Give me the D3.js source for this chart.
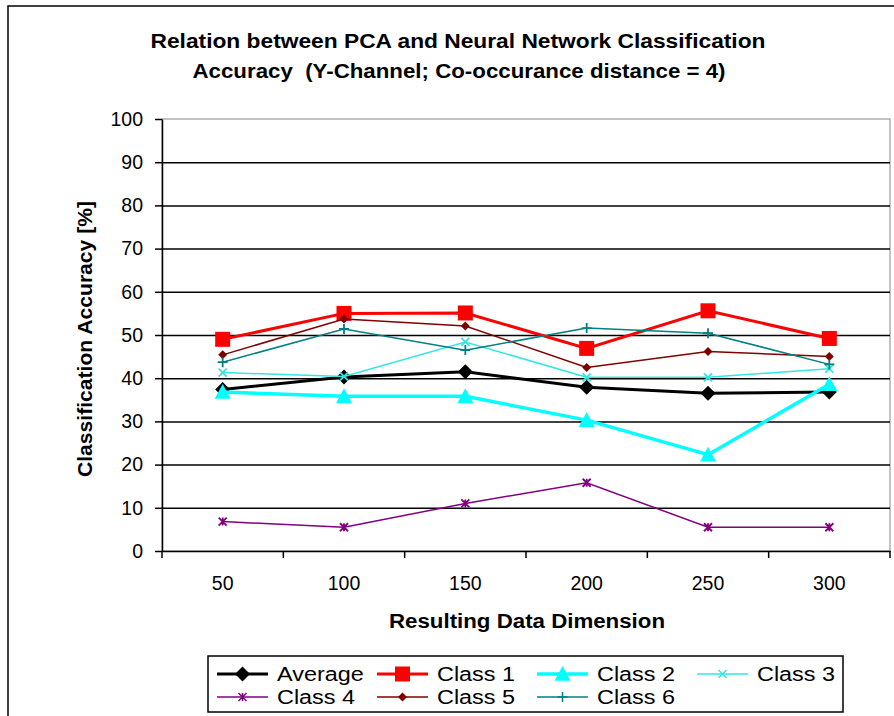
<!DOCTYPE html>
<html>
<head>
<meta charset="utf-8">
<script src="https://cdn.jsdelivr.net/npm/d3@7"></script>
<style>
  body { margin: 0; background: #fff; }
  text { font-family: Arial, "Liberation Sans", sans-serif; }
</style>
</head>
<body>
<svg id="viz" width="894" height="716"></svg>
<script>
// chart data
const dims = ["50", "100", "150", "200", "250", "300"];
const yTicks = [0, 10, 20, 30, 40, 50, 60, 70, 80, 90, 100];
const seriesNames = ["Average", "Class 1", "Class 2", "Class 3", "Class 4", "Class 5", "Class 6"];
const average = [37.4, 40.3, 41.5, 37.9, 36.5, 36.8];
const class1 = [49.0, 55.0, 55.1, 46.9, 55.6, 49.2];
const class2 = [36.8, 35.8, 35.8, 30.3, 22.3, 38.6];
const class3 = [41.3, 40.4, 48.4, 40.2, 40.2, 42.2];
const class4 = [6.8, 5.5, 11.0, 15.8, 5.5, 5.5];
const class5 = [45.4, 53.7, 52.1, 42.5, 46.2, 45.0];
const class6 = [43.7, 51.4, 46.5, 51.6, 50.4, 43.2];

const values = [average, class1, class2, class3, class4, class5, class6];
const styles = [
    {color: "#000000", width: 3, marker: "diamond", size: 15},
    {color: "#ff0000", width: 3, marker: "square", size: 15},
    {color: "#00ffff", width: 3.5, marker: "triangle", size: 16},
    {color: "#33e6e6", width: 1.5, marker: "x", size: 8},
    {color: "#800080", width: 1.5, marker: "star", size: 8},
    {color: "#800000", width: 1.5, marker: "diamond", size: 9},
    {color: "#008080", width: 1.5, marker: "plus", size: 10}
];

var svg = d3.select("#viz");
var margin = {left: 162, top: 119, right: 890, bottom: 551};

// outer chart frame
svg.append("rect")
    .attr("x", 8).attr("y", 6)
    .attr("width", 920).attr("height", 740)
    .attr("fill", "none")
    .attr("stroke", "#000")
    .attr("stroke-width", 1.5);

var x = d3.scaleBand()
    .domain(dims)
    .range([margin.left, margin.right]);
var y = d3.scaleLinear()
    .domain([0, 100])
    .range([margin.bottom, margin.top]);

// plot border (grey)
svg.append("rect")
    .attr("x", margin.left).attr("y", margin.top)
    .attr("width", margin.right - margin.left)
    .attr("height", margin.bottom - margin.top)
    .attr("fill", "none")
    .attr("stroke", "#888")
    .attr("stroke-width", 1);

// gridlines
svg.append("g")
    .attr("transform", `translate(${margin.left},0)`)
    .call(d3.axisLeft(y).tickValues(yTicks.slice(1, -1)).tickSize(-(margin.right - margin.left)).tickFormat(""))
    .call(g => g.select(".domain").remove())
    .selectAll("line")
    .attr("stroke", "#000")
    .attr("stroke-width", 1.5);

// y axis
var yAxis = svg.append("g")
    .attr("transform", `translate(${margin.left},0)`)
    .call(d3.axisLeft(y).tickValues(yTicks).tickSize(7).tickPadding(12).tickSizeOuter(0));
yAxis.select(".domain").attr("stroke-width", 1.5);
yAxis.selectAll("line").attr("stroke-width", 1.5);
yAxis.selectAll("text")
    .attr("font-size", 19.5)
    .attr("font-family", "Arial, 'Liberation Sans', sans-serif")
    .attr("fill", "#000");

// x axis (labels centered, ticks between categories)
var xAxis = svg.append("g")
    .attr("transform", `translate(0,${margin.bottom})`)
    .call(d3.axisBottom(x).tickSize(0).tickPadding(25));
xAxis.select(".domain").attr("stroke-width", 1.5);
xAxis.selectAll("text")
    .attr("font-size", 19.5)
    .attr("font-family", "Arial, 'Liberation Sans', sans-serif")
    .attr("fill", "#000");
xAxis.selectAll("line.sep")
    .data(dims.map(d => x(d)).concat([x.range()[1]]))
    .enter().append("line")
    .attr("class", "sep")
    .attr("x1", d => d).attr("x2", d => d)
    .attr("y1", 0).attr("y2", 7)
    .attr("stroke", "#000")
    .attr("stroke-width", 1.5);

// titles
var title = svg.append("text")
    .attr("text-anchor", "middle")
    .attr("font-weight", "bold")
    .attr("font-size", 21);
title.append("tspan").attr("x", 458).attr("y", 48)
    .attr("textLength", 615).attr("lengthAdjust", "spacingAndGlyphs")
    .text("Relation between PCA and Neural Network Classification");
title.append("tspan").attr("x", 459).attr("y", 78)
    .attr("textLength", 533).attr("lengthAdjust", "spacingAndGlyphs")
    .style("white-space", "pre")
    .text("Accuracy  (Y-Channel; Co-occurance distance = 4)");

svg.append("text")
    .attr("x", 527).attr("y", 628)
    .attr("text-anchor", "middle")
    .attr("font-weight", "bold")
    .attr("font-size", 20)
    .attr("textLength", 276).attr("lengthAdjust", "spacingAndGlyphs")
    .text("Resulting Data Dimension");

svg.append("text")
    .attr("transform", "translate(92,339) rotate(-90)")
    .attr("text-anchor", "middle")
    .attr("font-weight", "bold")
    .attr("font-size", 20)
    .attr("textLength", 276).attr("lengthAdjust", "spacingAndGlyphs")
    .text("Classification Accuracy [%]");

// marker paths
function markerPath(type, s) {
    var h = s / 2;
    switch (type) {
        case "diamond": return `M0,${-h}L${h},0L0,${h}L${-h},0Z`;
        case "square": return `M${-h},${-h}H${h}V${h}H${-h}Z`;
        case "triangle": return `M0,${-h}L${h},${h * 0.85}L${-h},${h * 0.85}Z`;
        case "x": return `M${-h},${-h}L${h},${h}M${-h},${h}L${h},${-h}`;
        case "plus": return `M${-h},0H${h}M0,${-h}V${h}`;
        case "star": return `M${-h},${-h}L${h},${h}M${-h},${h}L${h},${-h}M0,${-h}V${h}`;
    }
}
function filled(type) {
    return type === "diamond" || type === "square" || type === "triangle";
}

var line = d3.line()
    .x((d, i) => x(dims[i]) + x.bandwidth() / 2)
    .y(d => y(d));

var series = svg.selectAll("g.series")
    .data(values)
    .enter().append("g")
    .attr("class", "series");

series.append("path")
    .attr("d", d => line(d))
    .attr("fill", "none")
    .attr("stroke", (d, i) => styles[i].color)
    .attr("stroke-width", (d, i) => styles[i].width)
    .attr("stroke-linejoin", "miter");

series.each(function (vals, si) {
    var st = styles[si];
    d3.select(this).selectAll("path.mark")
        .data(vals)
        .enter().append("path")
        .attr("class", "mark")
        .attr("transform", (d, i) => `translate(${x(dims[i]) + x.bandwidth() / 2},${y(d)})`)
        .attr("d", markerPath(st.marker, st.size))
        .attr("fill", filled(st.marker) ? st.color : "none")
        .attr("stroke", st.color)
        .attr("stroke-width", filled(st.marker) ? 0 : 1.8);
});

// legend
var legend = svg.append("g").attr("class", "legend");
legend.append("rect")
    .attr("x", 208).attr("y", 656)
    .attr("width", 635).attr("height", 56)
    .attr("fill", "#fff")
    .attr("stroke", "#000")
    .attr("stroke-width", 1.5);

var item = legend.selectAll("g.item")
    .data(seriesNames)
    .enter().append("g")
    .attr("class", "item")
    .attr("transform", (d, i) => `translate(${217 + (i % 4) * 160},${i < 4 ? 674 : 697})`);
item.append("line")
    .attr("x1", 0).attr("x2", 51)
    .attr("stroke", (d, i) => styles[i].color)
    .attr("stroke-width", (d, i) => styles[i].width);
item.append("path")
    .attr("transform", "translate(25.5,0)")
    .attr("d", (d, i) => markerPath(styles[i].marker, styles[i].size))
    .attr("fill", (d, i) => filled(styles[i].marker) ? styles[i].color : "none")
    .attr("stroke", (d, i) => styles[i].color)
    .attr("stroke-width", (d, i) => filled(styles[i].marker) ? 0 : 1.5);
item.append("text")
    .attr("x", 60).attr("y", 7)
    .attr("font-size", 19.5)
    .text(d => d)
    .each(function () {
        // stretch horizontally like the original legend lettering
        var w = this.getComputedTextLength();
        d3.select(this).attr("textLength", w * 1.2).attr("lengthAdjust", "spacingAndGlyphs");
    });
</script>
</body>
</html>
